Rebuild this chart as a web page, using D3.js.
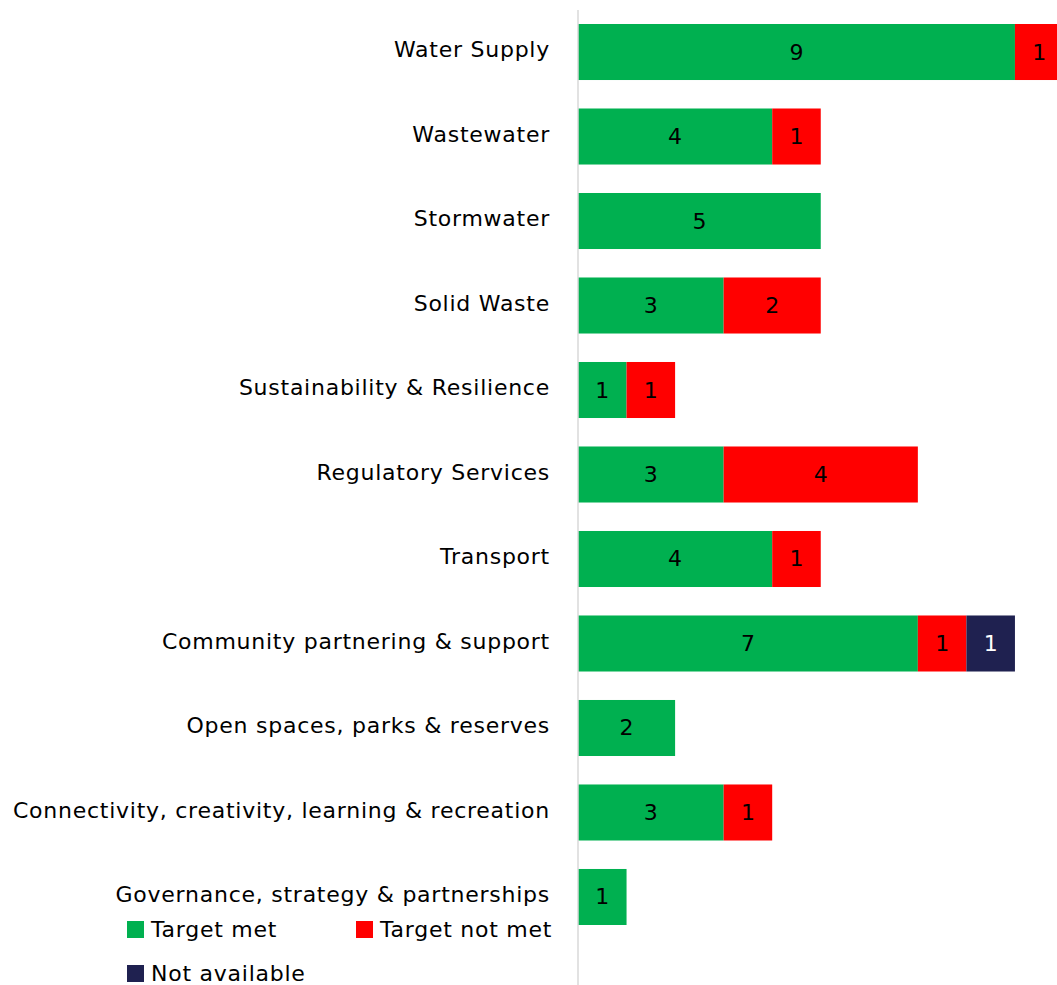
<!DOCTYPE html>
<html>
<head>
<meta charset="utf-8">
<script src="https://cdn.jsdelivr.net/npm/d3@7"></script>
<style>
  html, body { margin: 0; padding: 0; background: #fff; }
  svg { display: block; font-family: "DejaVu Sans", sans-serif; }
</style>
</head>
<body>
<svg id="chart" width="1057" height="985"></svg>
<script>
// Service areas (top to bottom) and counts of measures by result
const categories = [
  "Water Supply",
  "Wastewater",
  "Stormwater",
  "Solid Waste",
  "Sustainability & Resilience",
  "Regulatory Services",
  "Transport",
  "Community partnering & support",
  "Open spaces, parks & reserves",
  "Connectivity, creativity, learning & recreation",
  "Governance, strategy & partnerships"
];
const targetMet    = [9, 4, 5, 3, 1, 3, 4, 7, 2, 3, 1];
const targetNotMet = [1, 1, 0, 2, 1, 4, 1, 1, 0, 1, 0];
const notAvailable = [0, 0, 0, 0, 0, 0, 0, 1, 0, 0, 0];

const seriesNames = ["Target met", "Target not met", "Not available"];
const seriesColors = ["#00B050", "#FF0000", "#1F2150"];
const labelColors = ["#000", "#000", "#fff"];

const rows = categories.map((c, i) => ({
  category: c,
  "Target met": targetMet[i],
  "Target not met": targetNotMet[i],
  "Not available": notAvailable[i]
}));

const svg = d3.select("#chart");
const plotLeft = 578;
const fontFamily = "'DejaVu Sans', sans-serif";
const textSize = 22;
const tracking = 0.75;

const x = d3.scaleLinear().domain([0, 10]).range([plotLeft, plotLeft + 485.5]);
const y = d3.scaleBand().domain(categories).range([24, 925]).paddingInner(0.337).paddingOuter(0);

const stack = d3.stack().keys(seriesNames)(rows);

const groups = svg.append("g").selectAll("g")
  .data(stack)
  .join("g")
  .attr("fill", (d, i) => seriesColors[i]);

groups.selectAll("rect")
  .data(d => d.filter(p => p[1] - p[0] > 0))
  .join("rect")
  .attr("x", p => x(p[0]))
  .attr("y", p => y(p.data.category))
  .attr("width", p => x(p[1]) - x(p[0]))
  .attr("height", y.bandwidth());

// Value labels centred in each segment
stack.forEach((s, si) => {
  svg.append("g").selectAll("text")
    .data(s.filter(p => p[1] - p[0] > 0))
    .join("text")
    .attr("x", p => (x(p[0]) + x(p[1])) / 2)
    .attr("y", p => y(p.data.category) + y.bandwidth() / 2)
    .attr("text-anchor", "middle")
    .attr("dominant-baseline", "central")
    .attr("font-size", textSize)
    .attr("font-family", fontFamily)
    .attr("fill", labelColors[si])
    .text(p => p[1] - p[0]);
});

// Category axis
const yAxis = d3.axisLeft(y).tickSize(0).tickPadding(28);
const ag = svg.append("g").attr("transform", `translate(${plotLeft},-2)`).call(yAxis);
ag.select(".domain").remove();
ag.selectAll("text")
  .attr("font-size", textSize)
  .attr("font-family", fontFamily)
  .attr("letter-spacing", tracking)
  .attr("fill", "#000");

svg.append("line")
  .attr("x1", plotLeft).attr("x2", plotLeft)
  .attr("y1", 10).attr("y2", 985)
  .attr("stroke", "#D9D9D9").attr("stroke-width", 1.5);

// Legend
const legendItems = [
  { name: seriesNames[0], color: seriesColors[0], x: 127, y: 921 },
  { name: seriesNames[1], color: seriesColors[1], x: 356, y: 921 },
  { name: seriesNames[2], color: seriesColors[2], x: 127, y: 965 }
];
const lg = svg.append("g").selectAll("g").data(legendItems).join("g")
  .attr("transform", d => `translate(${d.x},${d.y})`);
lg.append("rect").attr("width", 17).attr("height", 17).attr("fill", d => d.color);
lg.append("text")
  .attr("x", 24).attr("y", 8)
  .attr("dominant-baseline", "central")
  .attr("font-size", textSize)
  .attr("font-family", fontFamily)
  .attr("letter-spacing", tracking)
  .attr("fill", "#000")
  .text(d => d.name);
</script>
</body>
</html>
